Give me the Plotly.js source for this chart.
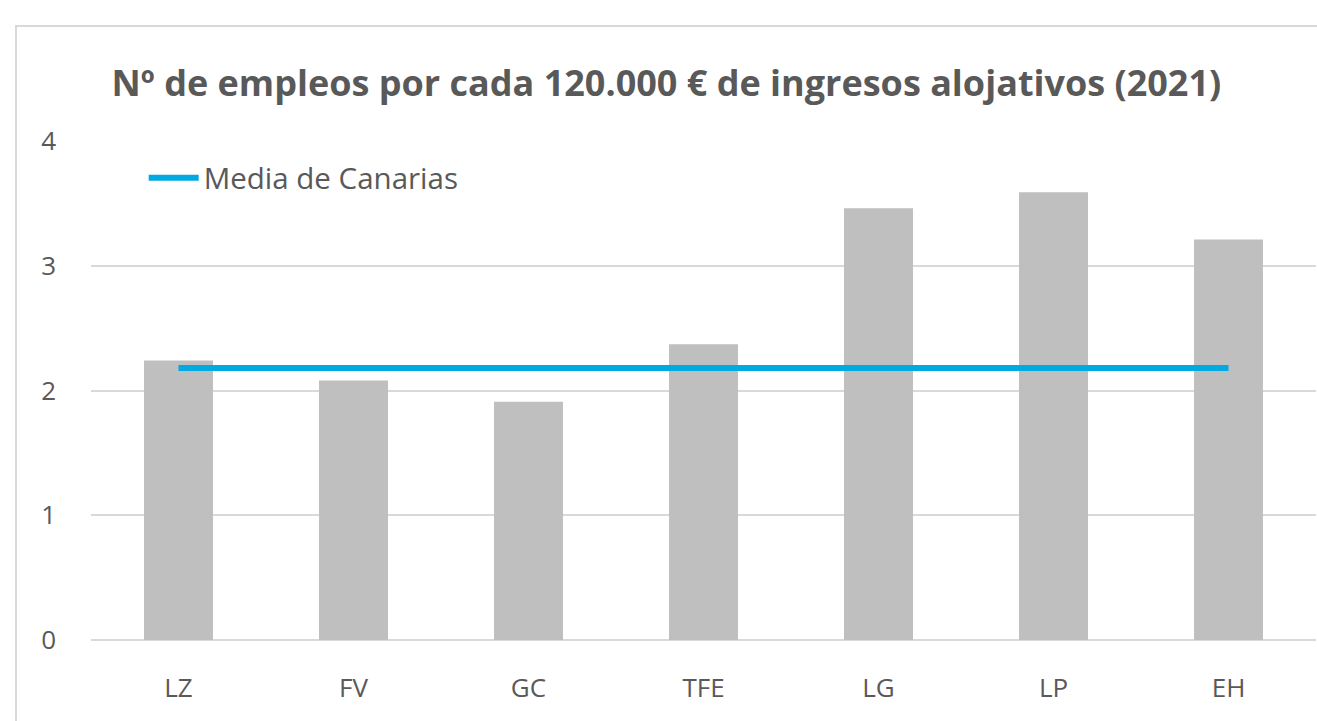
<!DOCTYPE html>
<html>
<head>
<meta charset="utf-8">
<script src="https://cdn.plot.ly/plotly-3.0.1.min.js"></script>
<style>
  html, body { margin:0; padding:0; background:#fff; overflow:hidden; }
  #frame { position:absolute; left:15px; top:25px; width:1320px; height:720px; border:2px solid #d9d9d9; box-sizing:border-box; }
  #chart { position:absolute; left:0; top:0; width:1317px; height:721px; }
</style>
</head>
<body>
<div id="frame"></div>
<div id="chart"></div>
<script>
const categories = ["LZ", "FV", "GC", "TFE", "LG", "LP", "EH"];
const barValues = [2.24, 2.08, 1.91, 2.37, 3.46, 3.59, 3.21];
const mediaCanarias = [2.18, 2.18, 2.18, 2.18, 2.18, 2.18, 2.18];
const yTicks = [0, 1, 2, 3, 4];

const font = "'Open Sans', 'DejaVu Sans', sans-serif";
const textColor = "#595959";

const traces = [
  {
    type: "bar",
    x: categories,
    y: barValues,
    marker: { color: "#bfbfbf" },
    width: 0.394,
    showlegend: false,
    hoverinfo: "x+y"
  },
  {
    type: "scatter",
    mode: "lines",
    name: "Media de Canarias",
    x: categories,
    y: mediaCanarias,
    line: { color: "#00a9e0", width: 6 },
    showlegend: true
  }
];

const layout = {
  width: 1317,
  height: 721,
  paper_bgcolor: "rgba(0,0,0,0)",
  plot_bgcolor: "rgba(0,0,0,0)",
  margin: { l: 91, r: 1, t: 141, b: 81 },
  title: {
    text: "<b>Nº de empleos por cada 120.000 € de ingresos alojativos (2021)</b>",
    font: { family: font, size: 36, color: textColor },
    x: 0.506, xanchor: "center",
    y: 0.885, yanchor: "middle", yref: "container"
  },
  xaxis: {
    type: "category",
    range: [-0.5, 6.5],
    showgrid: false,
    showline: false,
    zeroline: false,
    ticks: "",
    ticklabelstandoff: 30,
    tickfont: { family: font, size: 26, color: textColor }
  },
  yaxis: {
    range: [0, 4],
    tickvals: yTicks,
    ticktext: yTicks.map(String),
    showgrid: true,
    gridcolor: "#d9d9d9",
    gridwidth: 2,
    zeroline: true,
    zerolinecolor: "#d9d9d9",
    zerolinewidth: 2,
    showline: false,
    ticks: "",
    ticklabelstandoff: 34,
    tickfont: { family: font, size: 26, color: textColor }
  },
  legend: {
    x: 0.043, xanchor: "left",
    y: 0.978, yanchor: "top",
    bgcolor: "rgba(0,0,0,0)",
    font: { family: font, size: 29.5, color: textColor },
    itemwidth: 50
  },
  showlegend: true
};

Plotly.newPlot("chart", traces, layout, { displayModeBar: false, staticPlot: true });
</script>
</body>
</html>
